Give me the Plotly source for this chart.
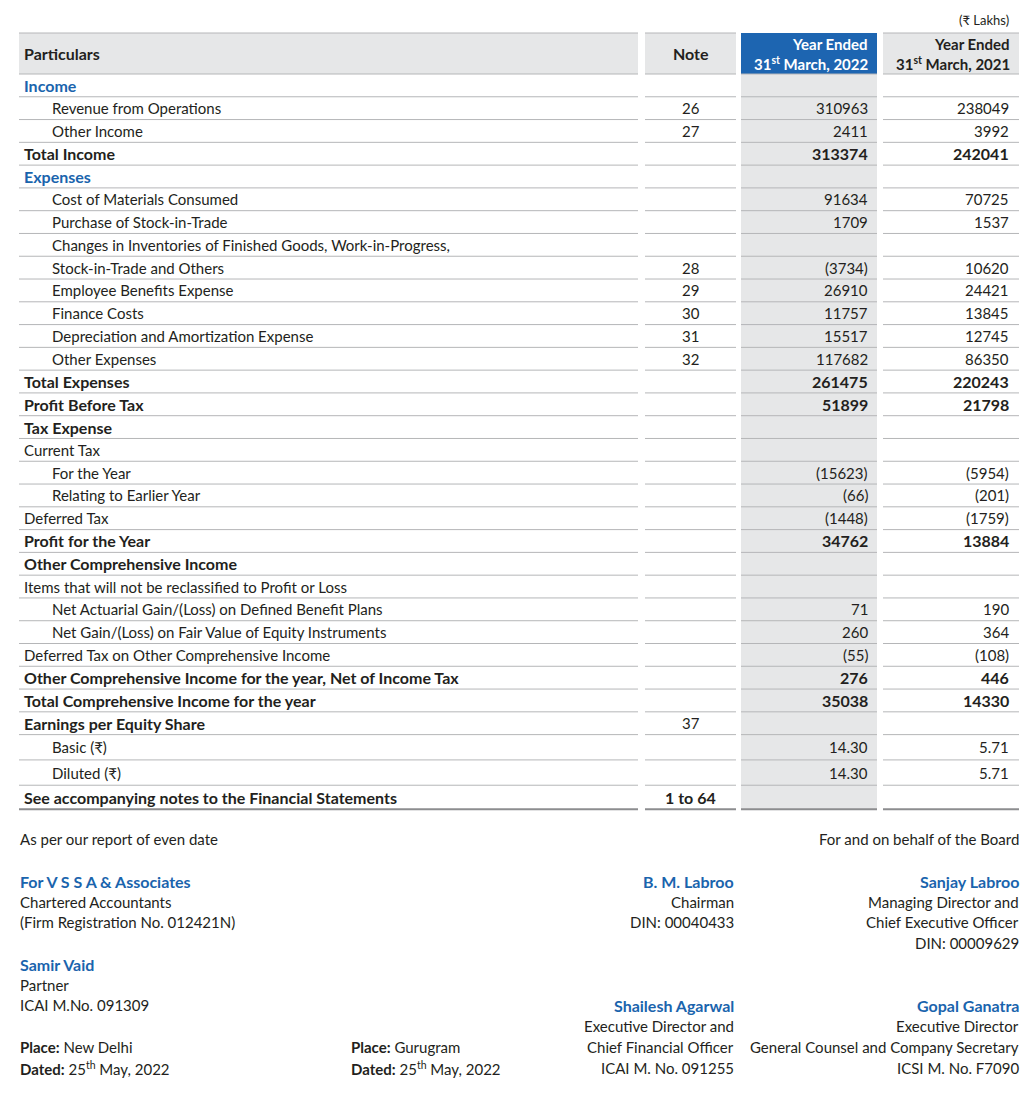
import plotly.graph_objects as go

# ---- statement data -------------------------------------------------------
particulars = [
    "Income", "Revenue from Operations", "Other Income", "Total Income",
    "Expenses", "Cost of Materials Consumed", "Purchase of Stock-in-Trade",
    "Changes in Inventories of Finished Goods, Work-in-Progress,",
    "Stock-in-Trade and Others", "Employee Benefits Expense", "Finance Costs",
    "Depreciation and Amortization Expense", "Other Expenses", "Total Expenses",
    "Profit Before Tax", "Tax Expense", "Current Tax", "For the Year",
    "Relating to Earlier Year", "Deferred Tax", "Profit for the Year",
    "Other Comprehensive Income",
    "Items that will not be reclassified to Profit or Loss",
    "Net Actuarial Gain/(Loss) on Defined Benefit Plans",
    "Net Gain/(Loss) on Fair Value of Equity Instruments",
    "Deferred Tax on Other Comprehensive Income",
    "Other Comprehensive Income for the year, Net of Income Tax",
    "Total Comprehensive Income for the year", "Earnings per Equity Share",
    "Basic (₹)", "Diluted (₹)",
    "See accompanying notes to the Financial Statements",
]
row_kind = [
    "head", "item", "item", "total",
    "head", "item", "item", "item", "item", "item", "item", "item", "item", "total",
    "total", "total", "plain", "item", "item", "plain", "total",
    "total", "plain", "item", "item", "plain", "total", "total", "total",
    "item", "item", "footnote",
]
notes = [
    "", "26", "27", "", "", "", "", "", "28", "29", "30", "31", "32", "",
    "", "", "", "", "", "", "", "", "", "", "", "", "", "", "37",
    "", "", "1 to 64",
]
fy2022 = [
    None, 310963, 2411, 313374, None, 91634, 1709, None, -3734, 26910, 11757,
    15517, 117682, 261475, 51899, None, None, -15623, -66, -1448, 34762,
    None, None, 71, 260, -55, 276, 35038, None, 14.30, 14.30, None,
]
fy2021 = [
    None, 238049, 3992, 242041, None, 70725, 1537, None, 10620, 24421, 13845,
    12745, 86350, 220243, 21798, None, None, -5954, -201, -1759, 13884,
    None, None, 190, 364, -108, 446, 14330, None, 5.71, 5.71, None,
]
unit_label = "(₹ Lakhs)"
col_headers = ["Particulars", "Note",
               ["Year Ended", "31<sup>st</sup> March, 2022"],
               ["Year Ended", "31<sup>st</sup> March, 2021"]]

# signature blocks
footer_left = ["As per our report of even date"]
footer_right = ["For and on behalf of the Board"]
auditor_firm = ["For V S S A & Associates", "Chartered Accountants",
                "(Firm Registration No. 012421N)"]
auditor_partner = ["Samir Vaid", "Partner", "ICAI M.No. 091309"]
place_auditor = ["<b>Place:</b> New Delhi", "<b>Dated:</b> 25<sup>th</sup> May, 2022"]
place_board = ["<b>Place:</b> Gurugram", "<b>Dated:</b> 25<sup>th</sup> May, 2022"]
chairman = ["B. M. Labroo", "Chairman", "DIN: 00040433"]
md = ["Sanjay Labroo", "Managing Director and", "Chief Executive Officer",
      "DIN: 00009629"]
cfo = ["Shailesh Agarwal", "Executive Director and", "Chief Financial Officer",
       "ICAI M. No. 091255"]
ed = ["Gopal Ganatra", "Executive Director",
      "General Counsel and Company Secretary", "ICSI M. No. F7090"]

# ---- layout constants -----------------------------------------------------
PAGE_W, PAGE_H = 1032, 1097
BODY_MARGIN = 8  # the html body offsets the figure by this much
FONT = "Lato, 'Noto Sans', sans-serif"
FS = 15
FS_BOLD = 16
INK = "#231f20"
BLUE = "#1a64ad"
HEAD_BLUE = "#1d65b1"
SHADE = "#e6e7e8"
RULE = "#b5b6b8"

cols = [(19, 638), (645, 736), (741, 877), (883, 1019)]
HEADER_TOP, BODY_TOP = 33, 74
row_h = [22.78] * 29 + [25.3, 25.3, 24.0]

edges = [BODY_TOP]
for h in row_h:
    edges.append(edges[-1] + h)
centers = [(a + b) / 2 for a, b in zip(edges[:-1], edges[1:])]


def fmt(v):
    if v is None:
        return ""
    s = f"{abs(v):.2f}" if isinstance(v, float) else f"{abs(v)}"
    return f"({s})" if v < 0 else s


fig = go.Figure()
annotations = []
shapes = []


def txt(x, y, text, anchor="left", color=INK, size=None, bold=False):
    if not text:
        return
    if size is None:
        size = FS_BOLD if bold else FS
    annotations.append(dict(
        x=x, y=y, xref="x", yref="y", text=f"<b>{text}</b>" if bold else text,
        xanchor=anchor, yanchor="middle", showarrow=False,
        font=dict(family=FONT, size=size, color=color), borderpad=0,
    ))


# header and column fills
for i, (x0, x1) in enumerate(cols):
    shapes.append(dict(type="rect", x0=x0, x1=x1, y0=HEADER_TOP, y1=BODY_TOP,
                       xref="x", yref="y", line_width=0,
                       fillcolor=HEAD_BLUE if i == 2 else SHADE, layer="below"))
shapes.append(dict(type="rect", x0=cols[2][0], x1=cols[2][1], y0=BODY_TOP,
                   y1=edges[-1], xref="x", yref="y", line_width=0,
                   fillcolor=SHADE, layer="below"))

# row rules
for k, y in enumerate([HEADER_TOP] + edges):
    last = k == len(edges)
    for i, (x0, x1) in enumerate(cols):
        if k == 0 and i == 2:
            continue
        shapes.append(dict(type="line", x0=x0, x1=x1, y0=y, y1=y, xref="x",
                           yref="y", line=dict(color="#8c8d8f" if last else RULE,
                                               width=2 if last else 1)))

# header text
hy = (HEADER_TOP + BODY_TOP) / 2
txt(23, hy, col_headers[0], bold=True)
txt((cols[1][0] + cols[1][1]) / 2, hy, col_headers[1], anchor="center", bold=True)
for i, lines in ((2, col_headers[2]), (3, col_headers[3])):
    color = "white" if i == 2 else INK
    txt(cols[i][1] - 8, 44, lines[0], anchor="right", color=color, bold=True,
        size=15)
    txt(cols[i][1] - 8, 63, lines[1], anchor="right", color=color, bold=True,
        size=15)
txt(cols[3][1] - 9, 20, unit_label, anchor="right", size=13)

# body
for label, kind, note, a, b, y in zip(particulars, row_kind, notes, fy2022,
                                      fy2021, centers):
    x = 51 if kind == "item" else 23
    bold = kind in ("head", "total", "footnote")
    txt(x, y, label, color=BLUE if kind == "head" else INK, bold=bold)
    txt((cols[1][0] + cols[1][1]) / 2, y, note, anchor="center",
        bold=kind == "footnote")
    txt(cols[2][1] - 8, y, fmt(a), anchor="right", bold=kind == "total")
    txt(cols[3][1] - 9, y, fmt(b), anchor="right", bold=kind == "total")


def block(x, y0, lines, anchor="left", first_blue=False, step=20.7):
    for j, line in enumerate(lines):
        blue = first_blue and j == 0
        txt(x, y0 + j * step, line, anchor=anchor,
            color=BLUE if blue else INK, bold=blue)


block(19, 839, footer_left)
block(1020, 839, footer_right, anchor="right")
block(19, 881, auditor_firm, first_blue=True)
block(19, 964, auditor_partner, first_blue=True)
block(19, 1047, place_auditor, step=21)
block(350, 1047, place_board, step=21)
block(735, 881, chairman, anchor="right", first_blue=True)
block(1020, 881, md, anchor="right", first_blue=True)
block(735, 1005, cfo, anchor="right", first_blue=True, step=21)
block(1020, 1005, ed, anchor="right", first_blue=True, step=21)

W = PAGE_W - 2 * BODY_MARGIN
H = PAGE_H - 2 * BODY_MARGIN
fig.update_layout(
    width=W, height=H,
    margin=dict(l=0, r=0, t=0, b=0),
    paper_bgcolor="white", plot_bgcolor="white",
    xaxis=dict(range=[BODY_MARGIN, BODY_MARGIN + W], visible=False,
               fixedrange=True),
    yaxis=dict(range=[BODY_MARGIN + H, BODY_MARGIN], visible=False,
               fixedrange=True),
    annotations=annotations, shapes=shapes, showlegend=False,
)
fig.write_html("out.html")
